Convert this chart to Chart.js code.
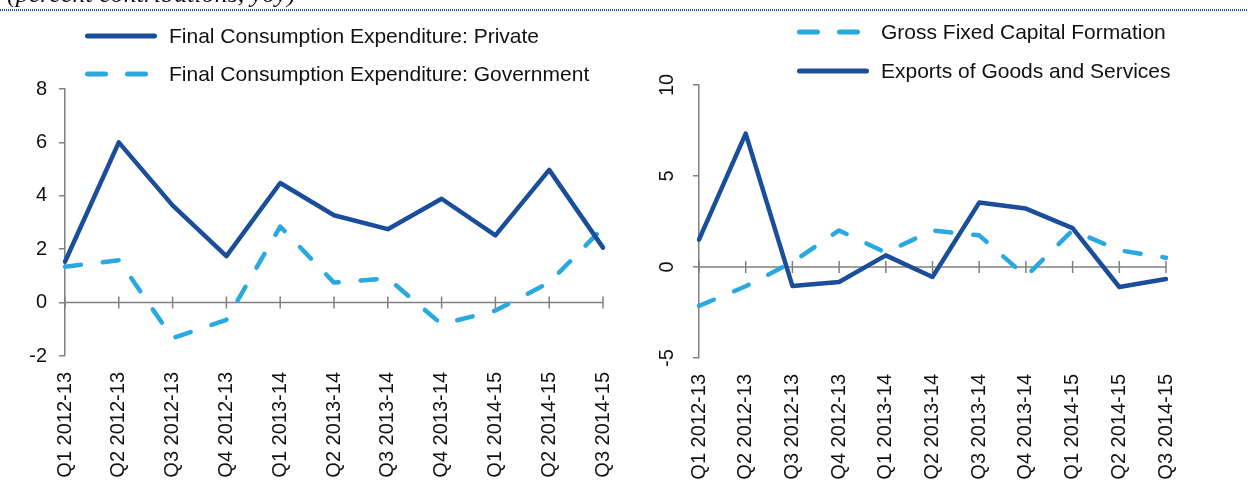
<!DOCTYPE html>
<html>
<head>
<meta charset="utf-8">
<script src="https://cdn.jsdelivr.net/npm/chart.js@4.4.1/dist/chart.umd.min.js"></script>
<style>
  html, body { margin: 0; padding: 0; background: #fff; }
  #page { position: relative; width: 1248px; height: 485px; overflow: hidden; }
  #page canvas { position: absolute; top: 0; }
  #titulo {
    position: absolute; left: 7px; top: -19px;
    font: italic 26px "Liberation Serif", serif; line-height: 26px;
    color: #111; white-space: nowrap;
  }
  #punteado {
    position: absolute; left: 0; top: 9px; width: 1248px; height: 2px;
    background: repeating-linear-gradient(to right, #1F4E9A 0 1px, transparent 1px 2px);
  }
</style>
</head>
<body>
<div id="page">
  <canvas id="grafica-consumo" width="624" height="485" style="left:0"></canvas>
  <canvas id="grafica-inversion" width="624" height="485" style="left:624px"></canvas>
  <div id="titulo">(percent contributions, yoy)</div>
  <div id="punteado"></div>
</div>
<script>
// ── Datos ────────────────────────────────────────────────────
const trimestres = [
  "Q1 2012-13", "Q2 2012-13", "Q3 2012-13", "Q4 2012-13",
  "Q1 2013-14", "Q2 2013-14", "Q3 2013-14", "Q4 2013-14",
  "Q1 2014-15", "Q2 2014-15", "Q3 2014-15"
];
const consumoPrivado  = [1.53, 6.0, 3.64, 1.74, 4.48, 3.27, 2.75, 3.89, 2.52, 4.97, 2.06];
const consumoGobierno = [1.34, 1.59, -1.33, -0.65, 2.85, 0.75, 0.91, -0.81, -0.3, 0.75, 2.8];
const formacionCapital = [-2.14, -1.06, 0.27, 2.01, 0.79, 2.01, 1.74, -0.51, 2.01, 0.92, 0.51];
const exportaciones    = [1.5, 7.33, -1.04, -0.82, 0.64, -0.55, 3.54, 3.21, 2.14, -1.1, -0.66];

const ticksConsumo   = [-2, 0, 2, 4, 6, 8];
const ticksInversion = [-5, 0, 5, 10];

const AZUL_OSCURO = "#1A4E9A";
const AZUL_CLARO  = "#29A9E0";
const GRIS_EJE    = "#808080";
const FUENTE      = '"Liberation Sans", Arial, sans-serif';

// ── Eje cero con marcas cruzadas ─────────────────────────────
const ejeCero = {
  id: "ejeCero",
  beforeDatasetsDraw(chart) {
    const { ctx, chartArea, scales } = chart;
    const y0 = scales.y.getPixelForValue(0);
    ctx.save();
    ctx.strokeStyle = GRIS_EJE;
    ctx.lineWidth = 1.5;
    ctx.beginPath();
    ctx.moveTo(chartArea.left, y0);
    ctx.lineTo(chartArea.right, y0);
    chart.data.labels.forEach((_, i) => {
      const x = scales.x.getPixelForValue(i);
      ctx.moveTo(x, y0 - 6);
      ctx.lineTo(x, y0 + 6);
    });
    ctx.stroke();
    ctx.restore();
  }
};

// ── Leyenda dibujada a mano ──────────────────────────────────
const leyendaLateral = {
  id: "leyendaLateral",
  afterDraw(chart, args, opts) {
    const ctx = chart.ctx;
    opts.orden.forEach((idx, fila) => {
      const ds = chart.data.datasets[idx];
      const y = opts.y[fila];
      ctx.save();
      ctx.strokeStyle = ds.borderColor;
      ctx.lineWidth = 5;
      ctx.lineCap = "round";
      ctx.setLineDash(ds.borderDash ? [18, 22] : []);
      ctx.beginPath();
      ctx.moveTo(opts.x + 2.5, y);
      ctx.lineTo(opts.x + (ds.borderDash ? 60.5 : 69.5), y);
      ctx.stroke();
      ctx.setLineDash([]);
      ctx.fillStyle = "#111";
      ctx.font = "21px " + FUENTE;
      ctx.textBaseline = "alphabetic";
      ctx.fillText(ds.label, opts.x + 84, y + 7);
      ctx.restore();
    });
  }
};

// ── Etiquetas verticales del eje Y (gráfica derecha) ─────────
const etiquetasGiradas = {
  id: "etiquetasGiradas",
  afterDraw(chart, args, opts) {
    if (!opts.activo) return;
    const { ctx, scales } = chart;
    ctx.save();
    ctx.fillStyle = "#111";
    ctx.font = "20px " + FUENTE;
    ctx.textAlign = "center";
    ctx.textBaseline = "middle";
    scales.y.ticks.forEach((t) => {
      const y = scales.y.getPixelForValue(t.value);
      ctx.save();
      ctx.translate(opts.x, y);
      ctx.rotate(-Math.PI / 2);
      ctx.fillText(String(t.value), 0, 0);
      ctx.restore();
    });
    ctx.restore();
  }
};

function serie(label, data, color, discontinua) {
  return {
    label, data,
    borderColor: color,
    borderWidth: 4.5,
    borderDash: discontinua ? [16, 22] : undefined,
    borderCapStyle: "round",
    borderJoinStyle: "round",
    pointRadius: 0,
    tension: 0,
    fill: false
  };
}

function crearGrafica(id, datasets, opc) {
  return new Chart(document.getElementById(id), {
    type: "line",
    data: { labels: trimestres, datasets },
    plugins: [ejeCero, leyendaLateral, etiquetasGiradas],
    options: {
      responsive: false,
      animation: false,
      devicePixelRatio: 1,
      layout: { padding: { top: opc.arriba, right: opc.derecha, left: 0, bottom: 0 } },
      plugins: {
        legend: { display: false },
        tooltip: { enabled: false },
        leyendaLateral: opc.leyenda,
        etiquetasGiradas: { activo: opc.girar, x: opc.xEtiqueta }
      },
      scales: {
        x: {
          type: "category",
          offset: false,
          grid: { display: false },
          border: { display: false },
          ticks: {
            autoSkip: false, minRotation: 90, maxRotation: 90,
            padding: 8, color: "#111", font: { family: FUENTE, size: 20 }
          },
          afterFit: (s) => {
            s.height = opc.altoX;
            s.paddingLeft = 0;
            s.paddingRight = 0;
          }
        },
        y: {
          min: opc.ticks[0],
          max: opc.ticks[opc.ticks.length - 1],
          afterBuildTicks: (s) => { s.ticks = opc.ticks.map((v) => ({ value: v })); },
          grid: { drawOnChartArea: false, drawTicks: true, tickLength: 6, color: GRIS_EJE, lineWidth: 1.5 },
          border: { display: true, color: GRIS_EJE, width: 1.5 },
          ticks: {
            display: !opc.girar,
            padding: 12, color: "#111", font: { family: FUENTE, size: 20 }
          },
          afterFit: (s) => { s.width = opc.anchoY; }
        }
      }
    }
  });
}

crearGrafica("grafica-consumo", [
  serie("Final Consumption Expenditure: Private", consumoPrivado, AZUL_OSCURO, false),
  serie("Final Consumption Expenditure: Government", consumoGobierno, AZUL_CLARO, true)
], {
  ticks: ticksConsumo, arriba: 89, derecha: 21, anchoY: 65, altoX: 129,
  girar: false, xEtiqueta: 0,
  leyenda: { x: 85, y: [36, 74], orden: [0, 1] }
});

crearGrafica("grafica-inversion", [
  serie("Exports of Goods and Services", exportaciones, AZUL_OSCURO, false),
  serie("Gross Fixed Capital Formation", formacionCapital, AZUL_CLARO, true)
], {
  ticks: ticksInversion, arriba: 85, derecha: 82, anchoY: 75, altoX: 127,
  girar: true, xEtiqueta: 43,
  leyenda: { x: 173, y: [32, 71], orden: [1, 0] }
});
</script>
</body>
</html>
